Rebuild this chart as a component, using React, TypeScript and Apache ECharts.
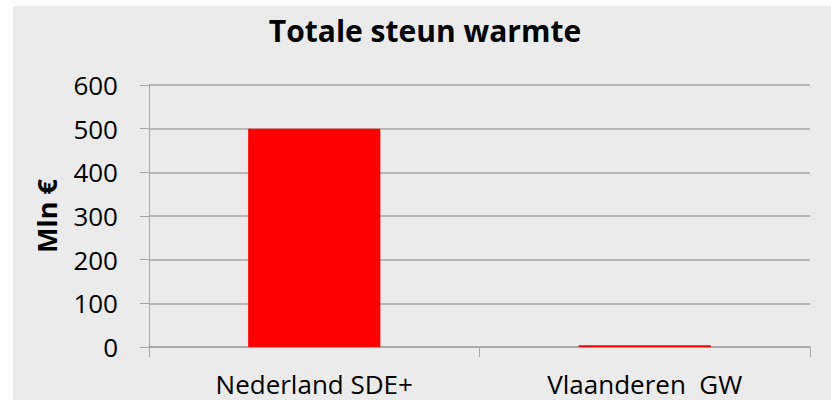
import React, { useEffect, useRef } from "react";
import * as echarts from "echarts";

const categories = ["Nederland SDE+", "Vlaanderen  GW"];
const values = [500, 4];
const yTicks = [0, 100, 200, 300, 400, 500, 600];

const FONT = "'Open Sans', 'Noto Sans', sans-serif";

export default function App() {
  const ref = useRef<HTMLDivElement>(null);
  useEffect(() => {
    if (!ref.current) return;
    const chart = echarts.init(ref.current, undefined, { renderer: "svg" });
    chart.setOption({
      animation: false,
      backgroundColor: "#ffffff",
      graphic: [
        {
          type: "rect",
          z: -10,
          silent: true,
          shape: { x: 13, y: 6, width: 818, height: 394 },
          style: { fill: "#ebebeb" },
        },
      ],
      title: {
        text: "Totale steun warmte",
        left: 420,
        top: 10,
        textAlign: "center",
        textStyle: { fontFamily: FONT, fontWeight: "bold", fontSize: 30, color: "#000" },
      },
      grid: { left: 149, right: 21, top: 85, bottom: 59, containLabel: false },
      xAxis: {
        type: "category",
        data: categories,
        axisLine: { lineStyle: { color: "#a6a6a6", width: 1.5 } },
        axisTick: { show: true, length: 10, lineStyle: { color: "#a6a6a6" } },
        axisLabel: { margin: 24, fontFamily: FONT, fontSize: 26, color: "#000" },
      },
      yAxis: {
        type: "value",
        min: yTicks[0],
        max: yTicks[yTicks.length - 1],
        interval: 100,
        name: "Mln €",
        nameLocation: "middle",
        nameGap: 89,
        nameRotate: 90,
        nameTextStyle: { fontFamily: FONT, fontWeight: "bold", fontSize: 27, color: "#000" },
        axisLine: { show: true, lineStyle: { color: "#a6a6a6" } },
        axisTick: { show: true, length: 9, lineStyle: { color: "#a6a6a6" } },
        axisLabel: { margin: 31, fontFamily: FONT, fontSize: 26, color: "#000" },
        splitLine: { lineStyle: { color: "#a6a6a6", width: 1.5 } },
      },
      series: [
        {
          type: "bar",
          data: values,
          barWidth: "40%",
          itemStyle: { color: "#ff0000" },
        },
      ],
    });
    return () => chart.dispose();
  }, []);
  return <div ref={ref} style={{ position: "fixed", left: 0, top: 0, width: 831, height: 406 }} />;
}
